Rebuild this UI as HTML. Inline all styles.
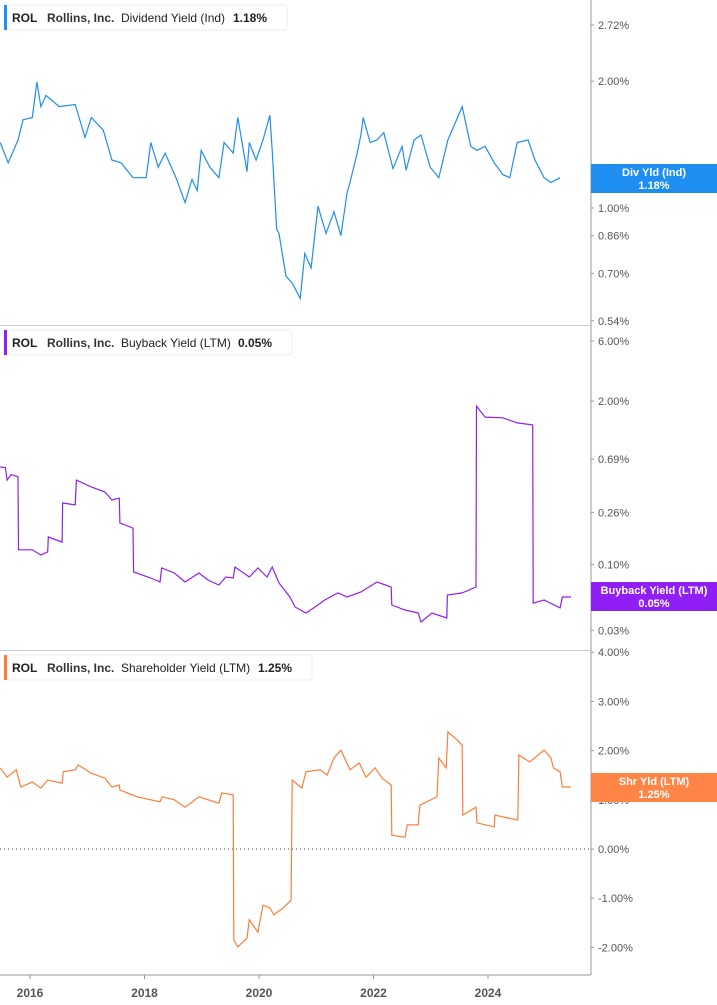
<!DOCTYPE html>
<html><head><meta charset="utf-8"><style>
body{margin:0;background:#fff;font-family:"Liberation Sans",sans-serif}
svg{display:block}
.tk{font-size:11px;fill:#555}
.yr{font-size:12px;fill:#555;font-weight:bold}
</style></head><body>
<svg id="c" width="717" height="1005" xmlns="http://www.w3.org/2000/svg"></svg>
<script>
const divDates=[2015.48,2015.62,2015.79,2015.88,2016.04,2016.12,2016.19,2016.28,2016.51,2016.79,2016.96,2017.07,2017.28,2017.43,2017.59,2017.80,2018.03,2018.11,2018.24,2018.36,2018.55,2018.71,2018.83,2018.92,2018.99,2019.14,2019.30,2019.39,2019.55,2019.63,2019.79,2019.83,2019.95,2020.07,2020.19,2020.23,2020.31,2020.35,2020.47,2020.59,2020.72,2020.80,2020.91,2021.03,2021.17,2021.31,2021.43,2021.54,2021.59,2021.71,2021.78,2021.82,2021.94,2022.06,2022.18,2022.34,2022.50,2022.57,2022.71,2022.83,2022.99,2023.14,2023.30,2023.55,2023.70,2023.81,2023.95,2024.11,2024.26,2024.38,2024.51,2024.70,2024.82,2024.98,2025.10,2025.26,2025.42,2025.47];
const divVals=[1.43,1.28,1.45,1.62,1.64,1.99,1.74,1.85,1.74,1.76,1.47,1.64,1.53,1.30,1.28,1.18,1.18,1.43,1.25,1.35,1.18,1.03,1.17,1.10,1.37,1.25,1.18,1.43,1.35,1.64,1.22,1.43,1.30,1.45,1.66,1.37,0.89,0.87,0.69,0.66,0.61,0.78,0.72,1.01,0.87,0.98,0.86,1.09,1.15,1.34,1.49,1.64,1.43,1.45,1.51,1.24,1.40,1.23,1.45,1.49,1.25,1.18,1.45,1.74,1.40,1.37,1.40,1.28,1.20,1.18,1.43,1.45,1.30,1.18,1.15,1.18];
const bbDates=[2015.48,2015.57,2015.60,2015.67,2015.79,2015.80,2016.04,2016.19,2016.31,2016.32,2016.56,2016.57,2016.79,2016.81,2017.07,2017.31,2017.43,2017.56,2017.57,2017.80,2017.81,2018.11,2018.27,2018.30,2018.52,2018.71,2018.95,2019.11,2019.30,2019.42,2019.55,2019.58,2019.83,2019.98,2020.14,2020.23,2020.35,2020.54,2020.63,2020.82,2020.98,2021.15,2021.38,2021.54,2021.78,2022.06,2022.31,2022.32,2022.55,2022.78,2022.83,2023.02,2023.28,2023.29,2023.55,2023.79,2023.80,2023.95,2024.26,2024.51,2024.78,2024.79,2024.98,2025.26,2025.30,2025.45];
const bbVals=[0.597,0.59,0.47,0.52,0.50,0.131,0.131,0.119,0.126,0.166,0.151,0.309,0.298,0.47,0.414,0.378,0.326,0.338,0.214,0.195,0.0873,0.0782,0.0727,0.0939,0.0857,0.0727,0.0857,0.0754,0.0688,0.0796,0.0782,0.0957,0.0796,0.0939,0.0796,0.0957,0.0713,0.0552,0.046,0.0412,0.046,0.0523,0.0595,0.0552,0.0605,0.0727,0.0663,0.0477,0.0435,0.0412,0.0349,0.0412,0.0376,0.0573,0.0595,0.0663,1.82,1.49,1.47,1.34,1.29,0.0494,0.0523,0.0452,0.0552,0.0552];
const shDates=[2015.48,2015.60,2015.76,2015.84,2016.04,2016.19,2016.31,2016.56,2016.58,2016.79,2016.84,2017.07,2017.31,2017.43,2017.56,2017.57,2017.87,2018.27,2018.31,2018.52,2018.71,2018.95,2019.30,2019.35,2019.55,2019.56,2019.63,2019.79,2019.83,2019.98,2020.07,2020.19,2020.26,2020.42,2020.56,2020.58,2020.75,2020.82,2021.07,2021.19,2021.31,2021.43,2021.59,2021.75,2021.87,2022.03,2022.15,2022.31,2022.32,2022.55,2022.59,2022.78,2022.81,2023.11,2023.14,2023.27,2023.30,2023.46,2023.55,2023.56,2023.79,2023.81,2024.11,2024.12,2024.35,2024.52,2024.54,2024.73,2024.98,2025.10,2025.14,2025.26,2025.30,2025.45];
const shVals=[1.65,1.46,1.61,1.26,1.36,1.24,1.40,1.34,1.57,1.61,1.71,1.54,1.44,1.26,1.30,1.20,1.06,0.96,1.06,1.00,0.85,1.06,0.93,1.14,1.10,-1.85,-1.99,-1.81,-1.44,-1.69,-1.14,-1.20,-1.34,-1.20,-1.04,1.40,1.24,1.57,1.61,1.50,1.85,2.01,1.61,1.75,1.46,1.65,1.44,1.30,0.28,0.24,0.49,0.49,0.89,1.06,1.85,1.65,2.38,2.22,2.11,0.69,0.85,0.53,0.45,0.69,0.63,0.59,1.91,1.77,2.01,1.85,1.65,1.57,1.26,1.26];
const divTicks=[2.72,2.00,1.00,0.86,0.70,0.54];
const bbTicks=[6.00,2.00,0.69,0.26,0.10,0.03];
const shTicks=[4,3,2,1,0,-1,-2];
const years=[2016,2018,2020,2022,2024];

const NS="http://www.w3.org/2000/svg";
const svg=document.getElementById('c');
function el(tag,attrs,parent){const e=document.createElementNS(NS,tag);for(const k in attrs)e.setAttribute(k,attrs[k]);(parent||svg).appendChild(e);return e;}
const xS=t=>30+(t-2016)*57.25;
const yDiv=v=>208-183*Math.log(v);
const yBB=v=>401-54.6*(Math.log(v)-Math.log(2));
const ySh=v=>849-49.2*v;

// frame
let e;
e=el('line',{x1:591,y1:0,x2:591,y2:975,stroke:'#999','stroke-width':1});


e=el('line',{x1:0,y1:325.5,x2:591,y2:325.5,stroke:'#ccc'});


e=el('line',{x1:0,y1:650.5,x2:591,y2:650.5,stroke:'#ccc'});


e=el('line',{x1:0,y1:975,x2:591,y2:975,stroke:'#999'});


e=el('line',{x1:0,y1:849,x2:591,y2:849,stroke:'#444','stroke-dasharray':'1,3'});



function ticks(arr,yf,fmt,name){arr.forEach(v=>{const y=yf(v);
 const t=el('line',{x1:591,y1:y,x2:594,y2:y,stroke:'#999'});
 
 
 const tx=el('text',{x:598,y:y+4,class:'tk'});tx.textContent=fmt(v);
 
 });}
ticks(divTicks,yDiv,v=>v.toFixed(2)+'%','div-y');
ticks(bbTicks,yBB,v=>v.toFixed(2)+'%','buyback-y');
ticks(shTicks,ySh,v=>v.toFixed(2)+'%','shareholder-y');
years.forEach(y=>{const x=xS(y);
 const t=el('line',{x1:x,y1:975,x2:x,y2:979,stroke:'#999'});
 
 
 const tx=el('text',{x:x,y:997,class:'yr','text-anchor':'middle'});tx.textContent=y;
 
 });

function line(d,v,yf,color,name){const p=el('path',{d:d.map((t,i)=>(i?'L':'M')+xS(t).toFixed(1)+','+yf(v[i]).toFixed(1)).join(''),fill:'none',stroke:color,'stroke-width':1.2});
 
 }
line(divDates,divVals,yDiv,'#1f8ef1','dividend-yield-line');
line(bbDates,bbVals,yBB,'#8f1ff5','buyback-yield-line');
line(shDates,shVals,ySh,'#ff7d3b','shareholder-yield-line');

function legend(y,w,color,metric,val,name){const g=el('g',{});
 
 
 el('rect',{x:4,y:y,width:w,height:25,rx:3,fill:'#fff',stroke:'#eee'},g);
 el('rect',{x:4,y:y,width:3,height:25,fill:color},g);
 const parts=[['ROL',12,'bold'],['Rollins, Inc.',47,'bold'],[metric,121,'normal'],[val,w-48+ (name==='div-legend'?0:0),'bold']];
 const t1=el('text',{x:12,y:y+17,'font-size':12,'font-weight':'bold',fill:'#222'},g);t1.textContent='ROL';
 const t2=el('text',{x:47,y:y+17,'font-size':12,'font-weight':'bold',fill:'#333'},g);t2.textContent='Rollins, Inc.';
 const t3=el('text',{x:121,y:y+17,'font-size':12,fill:'#222'},g);t3.textContent=metric;
 const t4=el('text',{x:w-50,y:y+17,'font-size':12,'font-weight':'bold',fill:'#222'},g);t4.textContent=val;}
legend(5,283,'#1f8ef1','Dividend Yield (Ind)','1.18%','div-legend');
legend(330,288,'#8f1ff5','Buyback Yield (LTM)','0.05%','buyback-legend');
legend(655,308,'#ff7d3b','Shareholder Yield (LTM)','1.25%','shareholder-legend');

function tag(y,color,l1,l2,name){const g=el('g',{});
 
 
 el('rect',{x:591,y:y,width:126,height:29,fill:color},g);
 const a=el('text',{x:654,y:y+12,'font-size':11,'font-weight':'bold',fill:'#fff','text-anchor':'middle'},g);a.textContent=l1;
 const b=el('text',{x:654,y:y+25,'font-size':11,'font-weight':'bold',fill:'#fff','text-anchor':'middle'},g);b.textContent=l2;}
tag(164,'#1f8ef1','Div Yld (Ind)','1.18%','div-value-tag');
tag(582,'#8f1ff5','Buyback Yield (LTM)','0.05%','buyback-value-tag');
tag(773,'#ff8547','Shr Yld (LTM)','1.25%','shareholder-value-tag');
</script>
</body></html>
